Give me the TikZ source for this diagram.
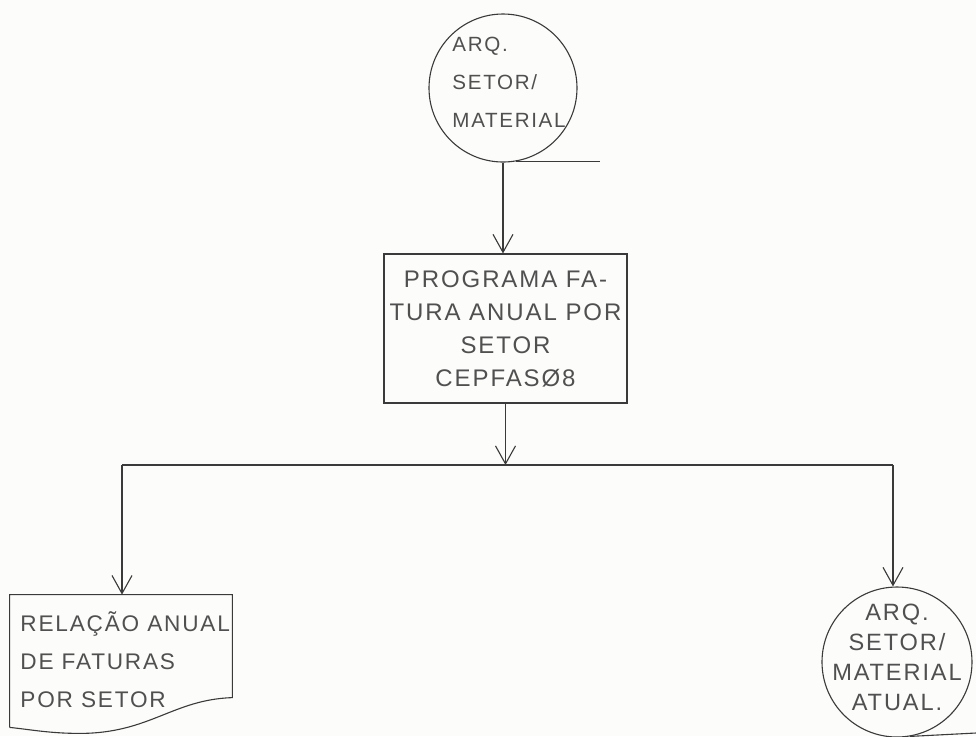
\documentclass[tikz,border=0pt]{standalone}
\usepackage{fontspec}
\setmainfont{Liberation Sans}
\newfontfamily\hand[LetterSpace=8]{Liberation Sans}
\usetikzlibrary{arrows.meta}
\definecolor{ink}{HTML}{3A3A3A}
\definecolor{pencil}{HTML}{505050}
\definecolor{paper}{HTML}{FCFCFA}

\begin{document}
\begin{tikzpicture}[x=0.5pt,y=-0.5pt,
  line/.style={draw=ink, line width=0.55pt},
  arr/.style={line, -{Straight Barb[length=9pt,width=10pt,line width=0.55pt]}},
  lbl/.style={text=pencil, inner sep=0pt},
  filebox/.style={line, circle, inner sep=0pt}
]
% page
\fill[paper] (0,0) rectangle (976,736);
\useasboundingbox (0,0) rectangle (976,736);
\clip (0,0) rectangle (976,736);

% input file
\node[filebox, minimum size=74pt] (fin) at (503,88) {};
\node[lbl, align=left, font=\hand\fontsize{10.3}{19}\selectfont] (finT) at (509,82)
  {ARQ.\\SETOR/\\MATERIAL};
\coordinate (finOut) at (600,158);
\draw[line] (fin.-80) -- (fin.-80 -| finOut);

% program box
\node[line, rectangle, minimum width=121.5pt, minimum height=74.5pt, inner sep=0pt,
      text=pencil, align=center, font=\hand\fontsize{12}{16.5}\selectfont] (prog) at (505.5,328.5)
  {PROGRAMA FA-\\TURA ANUAL POR\\SETOR\\CEPFASØ8};

\draw[arr] (fin.south) -- (fin.south |- prog.north);

% distribution bus
\coordinate (busL) at (122,465);
\coordinate (busR) at (893,465);
\draw[arr] (prog.south) -- (prog.south |- busL);
\draw[line] (busL) -- (busR);

% report (document shape)
\node[minimum width=111pt, minimum height=66pt, inner sep=0pt] (rep) at (121,661) {};
\node[lbl, align=left, anchor=west, font=\hand\fontsize{11.3}{19}\selectfont] (repT) at (20,660)
  {RELAÇÃO ANUAL\\DE FATURAS\\POR SETOR};
\draw[line] (rep.south west) -- (rep.north west) -- (rep.north east)
  -- ([yshift=-51.5pt]rep.north east)
  .. controls +(-60,2) and +(70,0) .. ([xshift=35pt,yshift=-3pt]rep.south west)
  .. controls +(-30,0) and +(20,2) .. (rep.south west);
\draw[arr] (busL) -- (busL |- rep.north);

% output file
\node[filebox, minimum size=75pt] (fout) at (897,662) {};
\node[lbl, align=center, font=\hand\fontsize{11.8}{15}\selectfont] (foutT) at (897,657)
  {ARQ.\\SETOR/\\MATERIAL\\ATUAL.};
\draw[arr] (busR) -- (busR |- fout.north);
\coordinate (foutOut) at (976,733);
\draw[line] (fout.-80) -- (foutOut);
\end{tikzpicture}
\end{document}
